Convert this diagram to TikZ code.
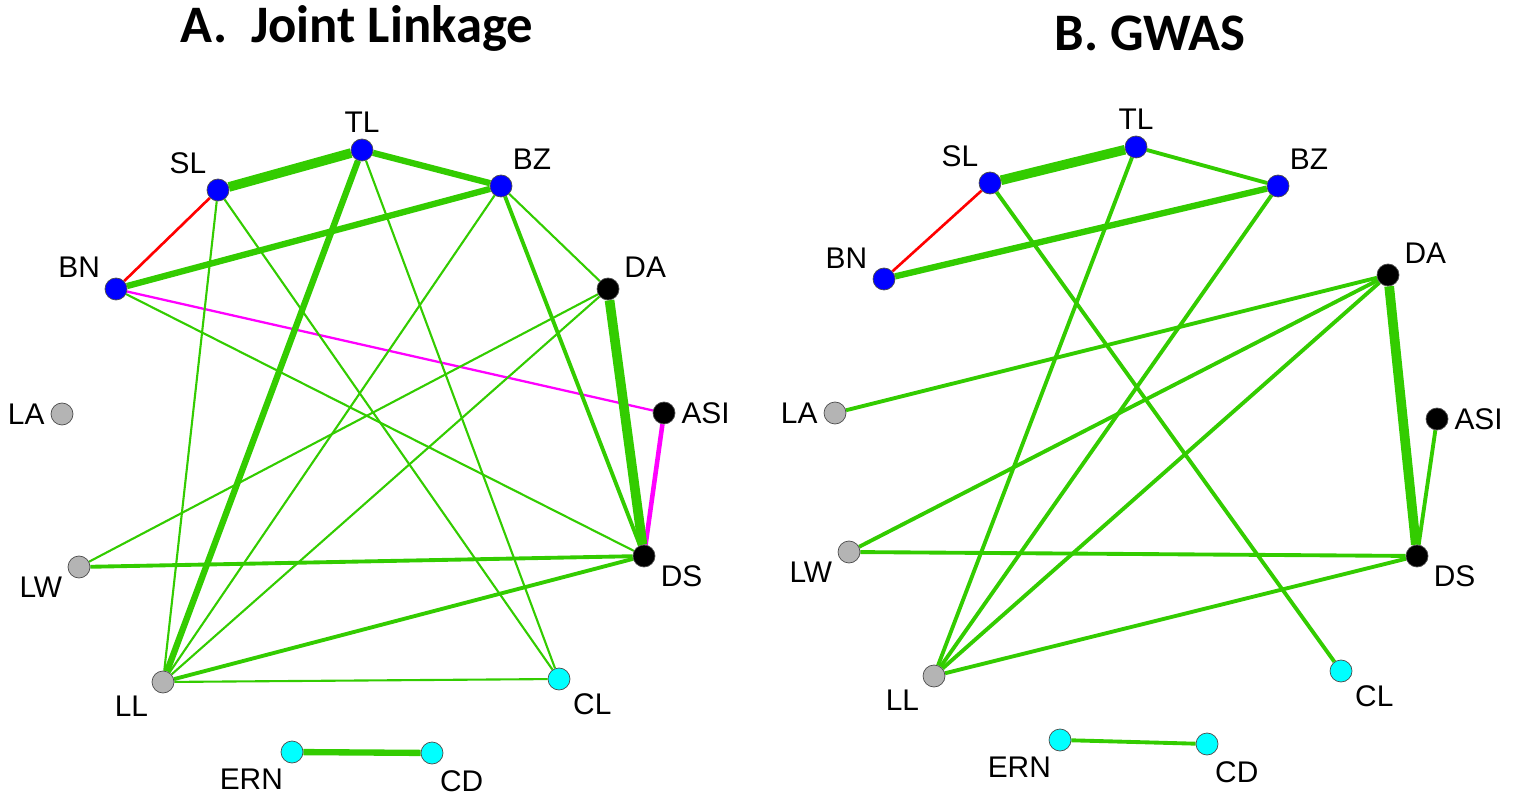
\documentclass[tikz,border=0pt]{standalone}
\usepackage{fontspec}
\setmainfont{Liberation Sans}
\newfontfamily\titlefont{Carlito}
\usetikzlibrary{backgrounds}
\definecolor{lgreen}{HTML}{33CC00}
\definecolor{lgray}{HTML}{B4B4B4}
\definecolor{lcyan}{HTML}{00FFFF}
\definecolor{lmagenta}{HTML}{FF00FF}
\definecolor{lred}{HTML}{FF0000}
\definecolor{lblue}{HTML}{0000FF}
\begin{document}
\begin{tikzpicture}[x=0.02cm,y=-0.02cm,
  every label/.style={font=\fontsize{17}{20}\selectfont},
  trait/.style={circle,draw=black!70,thin,minimum size=0.44cm,inner sep=0pt,
    label distance=0pt},
  blue node/.style={trait,fill=lblue},
  black node/.style={trait,fill=black},
  gray node/.style={trait,fill=lgray},
  cyan node/.style={trait,fill=lcyan},
  thin link/.style={lgreen,line width=1.2pt},
  mid link/.style={lgreen,line width=2.2pt},
  thick link/.style={lgreen,line width=3.6pt},
  heavy link/.style={lgreen,line width=5.5pt},
  title/.style={font=\titlefont\bfseries\fontsize{30}{34}\selectfont}]
  \useasboundingbox (0,0) rectangle (1515,800);

  \node[title] (titleA) at (357,28) {A.\ \ Joint Linkage};
  \node[title] (titleB) at (1150,33) {B. GWAS};

  % A. joint linkage
  \node[blue node,label={90:TL}] (aTL) at (362,150) {};
  \node[blue node,label={120:SL}] (aSL) at (218,190) {};
  \node[blue node,label={60:BZ}] (aBZ) at (501,186) {};
  \node[blue node,label={150:BN}] (aBN) at (116,289) {};
  \node[black node,label={25:DA}] (aDA) at (608,289) {};
  \node[black node,label={0:ASI}] (aASI) at (664,413) {};
  \node[gray node,label={180:LA}] (aLA) at (62,414) {};
  \node[gray node,label={200:LW}] (aLW) at (79,567) {};
  \node[black node,label={-20:DS}] (aDS) at (644,556) {};
  \node[gray node,label={220:LL}] (aLL) at (163,682) {};
  \node[cyan node,label={-45:CL}] (aCL) at (559,679) {};
  \node[cyan node,label={-105:ERN}] (aERN) at (292,752) {};
  \node[cyan node,label={-80:CD}] (aCD) at (432,753) {};

  \begin{pgfonlayer}{background}
  \draw[heavy link] (aSL) -- (aTL);
  \draw[thick link] (aTL) -- (aBZ);
  \draw[thick link] (aBN) -- (aBZ);
  \draw[lred,line width=1.5pt] (aBN) -- (aSL);
  \draw[lmagenta,line width=1.3pt] (aBN) -- (aASI);
  \draw[lmagenta,line width=2.6pt] (aASI) -- (aDS);
  \draw[heavy link] (aDA) -- (aDS);
  \draw[thick link] (aTL) -- (aLL);
  \draw[thin link] (aSL) -- (aLL);
  \draw[thin link] (aSL) -- (aCL);
  \draw[thin link] (aTL) -- (aCL);
  \draw[thin link] (aBZ) -- (aLL);
  \draw[thin link] (aBZ) -- (aDA);
  \draw[mid link] (aBZ) -- (aDS);
  \draw[thin link] (aBN) -- (aDS);
  \draw[thin link] (aDA) -- (aLW);
  \draw[thin link] (aDA) -- (aLL);
  \draw[mid link] (aDS) -- (aLW);
  \draw[mid link] (aDS) -- (aLL);
  \draw[thin link] (aLL) -- (aCL);
  \draw[thick link] (aERN) -- (aCD);
  \end{pgfonlayer}

  % B. GWAS
  \node[blue node,label={90:TL}] (bTL) at (1136,147) {};
  \node[blue node,label={120:SL}] (bSL) at (990,183) {};
  \node[blue node,label={60:BZ}] (bBZ) at (1278,186) {};
  \node[blue node,label={160:BN}] (bBN) at (884,279) {};
  \node[black node,label={25:DA}] (bDA) at (1388,275) {};
  \node[black node,label={0:ASI}] (bASI) at (1437,419) {};
  \node[gray node,label={180:LA}] (bLA) at (835,413) {};
  \node[gray node,label={200:LW}] (bLW) at (849,552) {};
  \node[black node,label={-20:DS}] (bDS) at (1417,556) {};
  \node[gray node,label={220:LL}] (bLL) at (934,676) {};
  \node[cyan node,label={-45:CL}] (bCL) at (1341,671) {};
  \node[cyan node,label={-105:ERN}] (bERN) at (1060,740) {};
  \node[cyan node,label={-80:CD}] (bCD) at (1207,744) {};

  \begin{pgfonlayer}{background}
  \draw[heavy link] (bSL) -- (bTL);
  \draw[mid link] (bTL) -- (bBZ);
  \draw[thick link] (bBN) -- (bBZ);
  \draw[lred,line width=1.5pt] (bBN) -- (bSL);
  \draw[heavy link] (bDA) -- (bDS);
  \draw[mid link] (bASI) -- (bDS);
  \draw[mid link] (bDA) -- (bLA);
  \draw[mid link] (bDA) -- (bLW);
  \draw[mid link] (bDA) -- (bLL);
  \draw[mid link] (bDS) -- (bLW);
  \draw[mid link] (bDS) -- (bLL);
  \draw[mid link] (bTL) -- (bLL);
  \draw[mid link] (bBZ) -- (bLL);
  \draw[mid link] (bSL) -- (bCL);
  \draw[mid link] (bERN) -- (bCD);
  \end{pgfonlayer}
\end{tikzpicture}
\end{document}
